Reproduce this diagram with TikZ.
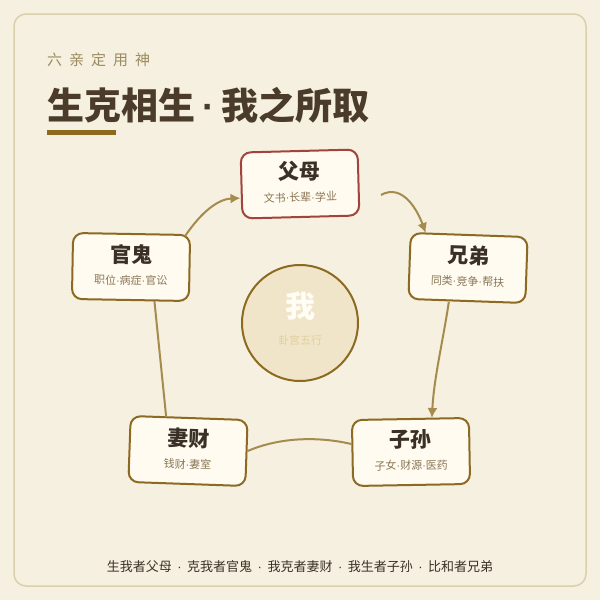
\documentclass[tikz,border=0pt]{standalone}
\usepackage{fontspec}
\setmainfont{Noto Sans CJK SC}
\newfontfamily\latinf{Liberation Sans}
\usetikzlibrary{arrows.meta,calc}

\definecolor{bg}{HTML}{F6F0E1}
\definecolor{frame}{HTML}{DCCFAE}
\definecolor{kicker}{HTML}{9C8B5E}
\definecolor{headtxt}{HTML}{4A3B2A}
\definecolor{bar}{HTML}{8C6A1E}
\definecolor{boxfill}{HTML}{FFFBF1}
\definecolor{boxline}{HTML}{8C6A22}
\definecolor{fumuline}{HTML}{A2433C}
\definecolor{titletxt}{HTML}{3B3026}
\definecolor{subtxt}{HTML}{8A7654}
\definecolor{linkc}{HTML}{A58C4E}
\definecolor{circfill}{HTML}{F0E5C8}
\definecolor{circline}{HTML}{8C6A22}
\definecolor{wochar}{HTML}{FFFDF6}
\definecolor{wosub}{HTML}{E0CFA0}

\newcommand{\md}{{\latinf ·}}
\newcommand{\qsep}{\hspace{5.5pt}\md\hspace{5.5pt}}

\begin{document}
\begin{tikzpicture}[
    x=1pt, y=-1pt,
    qinbox/.style={fill=boxfill, line width=2pt, rounded corners=10pt,
      minimum width=117pt, minimum height=66pt},
    qtitle/.style={text=titletxt, font=\fontsize{21}{24}\selectfont\bfseries, inner sep=0pt},
    qsub/.style={text=subtxt, font=\fontsize{11}{13}\selectfont, inner sep=0pt},
    link/.style={draw=linkc, line width=2pt},
    arr/.style={-{Latex[length=10pt,width=10pt]}}
  ]
  \fill[bg] (0,0) rectangle (600,600);
  \useasboundingbox (0,0) rectangle (600,600);
  \draw[frame, rounded corners=12pt, line width=1.5pt] (14,14) rectangle (586,586);

  % heading
  \node[anchor=west, inner sep=0pt, text=kicker, font=\fontsize{15}{18}\selectfont] (kicker) at (47,60)
    {六\hspace{7pt}亲\hspace{7pt}定\hspace{7pt}用\hspace{7pt}神};
  \node[anchor=west, inner sep=0pt, text=headtxt, font=\fontsize{37}{40}\selectfont\bfseries] (heading) at (47,105)
    {生克相生\hspace{7pt}\md\hspace{7pt}我之所取};
  \fill[bar] (47,130) rectangle (116,135);

  % the five relations
  \foreach \nm/\pos/\ang/\ti/\sub/\bc in {
      fumu/{(300,184)}/1.5/父母/文书\md 长辈\md 学业/fumuline,
      xiongdi/{(468,268)}/-2/兄弟/同类\md 竞争\md 帮扶/boxline,
      zisun/{(411,452)}/1/子孙/子女\md 财源\md 医药/boxline,
      qicai/{(188,451)}/-2/妻财/钱财\md 妻室/boxline,
      guangui/{(131,267)}/-1/官鬼/职位\md 病症\md 官讼/boxline} {
    \node[qinbox, draw=\bc, rotate=\ang] (\nm) at \pos {};
    \node[qtitle, rotate=\ang] (\nm-t) at ($(\nm.center)!0.37!(\nm.north)$) {\ti};
    \node[qsub, rotate=\ang] (\nm-s) at ($(\nm.center)!0.39!(\nm.south)$) {\sub};
  }

  % centre
  \node[circle, draw=circline, fill=circfill, line width=2pt, minimum size=116pt, inner sep=0pt] (wo) at (300,323) {};
  \node[text=wochar, font=\fontsize{30}{32}\selectfont\bfseries, inner sep=0pt] (wo-t) at ([yshift=17pt]wo.center) {我};
  \node[text=wosub, font=\fontsize{11}{13}\selectfont, inner sep=0pt] (wo-s) at ([yshift=-17pt]wo.center) {卦宫五行};

  % connectors
  \draw[link, arr] ([shift={(-6,2)}]guangui.north east)
    .. controls +(17,-25) and +(-22,1) .. ([shift={(0,12.5)}]fumu.west);
  \draw[link, arr] ([shift={(21.5,12.5)}]fumu.east)
    .. controls +(22,-12) and +(-8,-22) .. ([shift={(16,1)}]xiongdi.north west);
  \draw[link, arr] ([shift={(-18,0)}]xiongdi.south)
    .. controls +(-6,40) and +(2,-40) .. ([shift={(21.5,0)}]zisun.north);
  \draw[link] ([shift={(0,-9)}]zisun.west)
    .. controls +(-30,-7) and +(35,-15) .. ([shift={(0,-2)}]qicai.east);
  \draw[link] ([shift={(-23,0)}]qicai.north) -- ([shift={(24,0)}]guangui.south);

  % footer
  \node[text=titletxt, font=\fontsize{13}{16}\selectfont, inner sep=0pt] (foot) at (300,567)
    {生我者父母\qsep 克我者官鬼\qsep 我克者妻财\qsep 我生者子孙\qsep 比和者兄弟};
\end{tikzpicture}
\end{document}
